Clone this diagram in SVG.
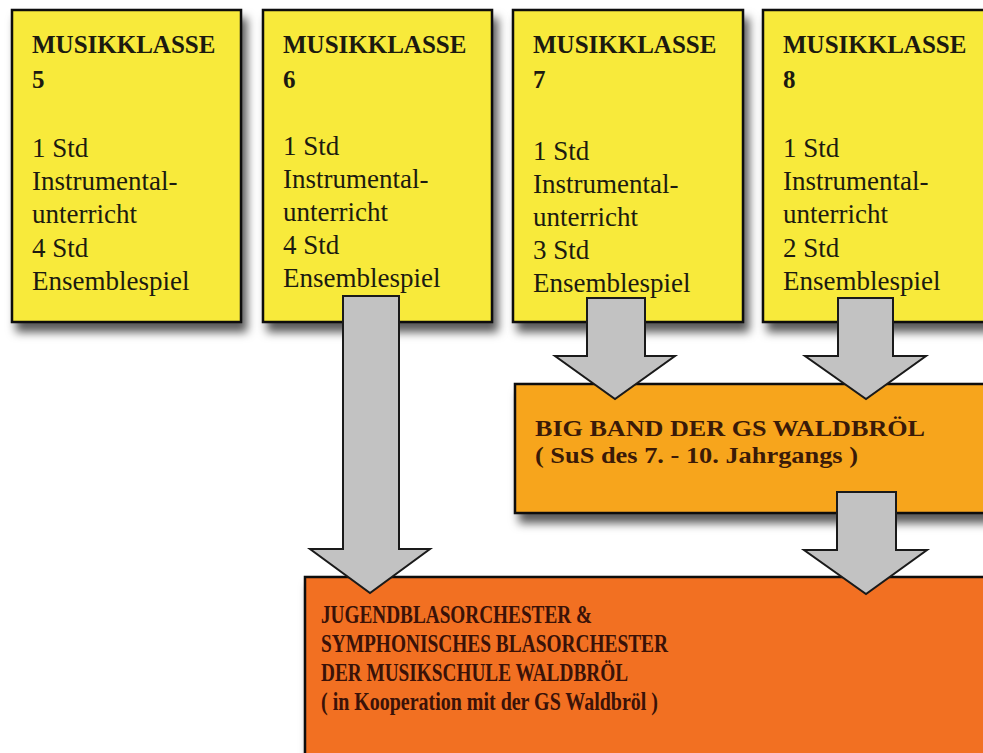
<svg xmlns="http://www.w3.org/2000/svg" width="983" height="753" viewBox="0 0 983 753">
<defs>
<filter id="sh" x="-10%" y="-10%" width="130%" height="130%">
<feDropShadow dx="5" dy="9" stdDeviation="5" flood-color="#000" flood-opacity="0.65"/>
</filter>
<style>
.yb{fill:#f8ea3a;stroke:#111;stroke-width:2.5;filter:url(#sh)}
.bb{fill:#f7a51f;stroke:#111;stroke-width:2.5;filter:url(#sh)}
.ob{fill:#f26f22;stroke:#111;stroke-width:2.5;filter:url(#sh)}
.ar{fill:#c2c2c2;stroke:#1a1a1a;stroke-width:2;stroke-linejoin:miter}
.h{font-family:"Liberation Serif",serif;font-weight:bold;font-size:25px;fill:#1c1a10}
.t{font-family:"Liberation Serif",serif;font-size:27px;fill:#1c1a10}
.bt{font-family:"Liberation Serif",serif;font-weight:bold;font-size:24px;fill:#3a1a08}
.ot{font-family:"Liberation Serif",serif;font-weight:bold;font-size:25px;fill:#3a1208}
</style>
</defs>
<rect width="983" height="753" fill="#fff"/>
<g id="mk5">
<rect class="yb" x="12" y="10" width="229" height="312"/>
<text class="h" x="32" y="53">MUSIKKLASSE</text>
<text class="h" x="32" y="88">5</text>
<text class="t" x="32" y="157">1 Std</text>
<text class="t" x="32" y="190">Instrumental-</text>
<text class="t" x="32" y="223">unterricht</text>
<text class="t" x="32" y="257">4 Std</text>
<text class="t" x="32" y="290">Ensemblespiel</text>
</g>
<g id="mk6">
<rect class="yb" x="263" y="10" width="229" height="312"/>
<text class="h" x="283" y="53">MUSIKKLASSE</text>
<text class="h" x="283" y="88">6</text>
<text class="t" x="283" y="155">1 Std</text>
<text class="t" x="283" y="188">Instrumental-</text>
<text class="t" x="283" y="221">unterricht</text>
<text class="t" x="283" y="254">4 Std</text>
<text class="t" x="283" y="287">Ensemblespiel</text>
</g>
<g id="mk7">
<rect class="yb" x="513" y="10" width="230" height="312"/>
<text class="h" x="533" y="53">MUSIKKLASSE</text>
<text class="h" x="533" y="88">7</text>
<text class="t" x="533" y="160">1 Std</text>
<text class="t" x="533" y="193">Instrumental-</text>
<text class="t" x="533" y="226">unterricht</text>
<text class="t" x="533" y="259">3 Std</text>
<text class="t" x="533" y="292">Ensemblespiel</text>
</g>
<g id="mk8">
<rect class="yb" x="763" y="10" width="240" height="312"/>
<text class="h" x="783" y="53">MUSIKKLASSE</text>
<text class="h" x="783" y="88">8</text>
<text class="t" x="783" y="157">1 Std</text>
<text class="t" x="783" y="190">Instrumental-</text>
<text class="t" x="783" y="223">unterricht</text>
<text class="t" x="783" y="257">2 Std</text>
<text class="t" x="783" y="290">Ensemblespiel</text>
</g>
<g id="bigband">
<rect class="bb" x="515" y="384" width="490" height="129"/>
<text class="bt" x="535" y="436" textLength="390" lengthAdjust="spacingAndGlyphs">BIG BAND DER GS WALDBRÖL</text>
<text class="bt" x="535" y="463" textLength="323" lengthAdjust="spacingAndGlyphs">( SuS  des 7. - 10. Jahrgangs )</text>
</g>
<g id="orchester">
<rect class="ob" x="305" y="577" width="700" height="200"/>
<text class="ot" x="321" y="623" textLength="271" lengthAdjust="spacingAndGlyphs">JUGENDBLASORCHESTER &amp;</text>
<text class="ot" x="321" y="652" textLength="347" lengthAdjust="spacingAndGlyphs">SYMPHONISCHES BLASORCHESTER</text>
<text class="ot" x="321" y="681" textLength="307" lengthAdjust="spacingAndGlyphs">DER MUSIKSCHULE WALDBRÖL</text>
<text class="ot" x="321" y="710" textLength="337" lengthAdjust="spacingAndGlyphs">( in Kooperation mit der GS Waldbröl )</text>
</g>
<g id="connectors">
<polygon class="ar" points="343,296 399,296 399,549 430,549 370,593 310,549 343,549"/>
<polygon class="ar" points="587,298 645,298 645,356 675,356 615,399 555,356 587,356"/>
<polygon class="ar" points="838,298 893,298 893,356 926,356 866,399 805,356 838,356"/>
<polygon class="ar" points="837,492 896,492 896,550 927,550 866,594 804,550 837,550"/>
</g>
</svg>
